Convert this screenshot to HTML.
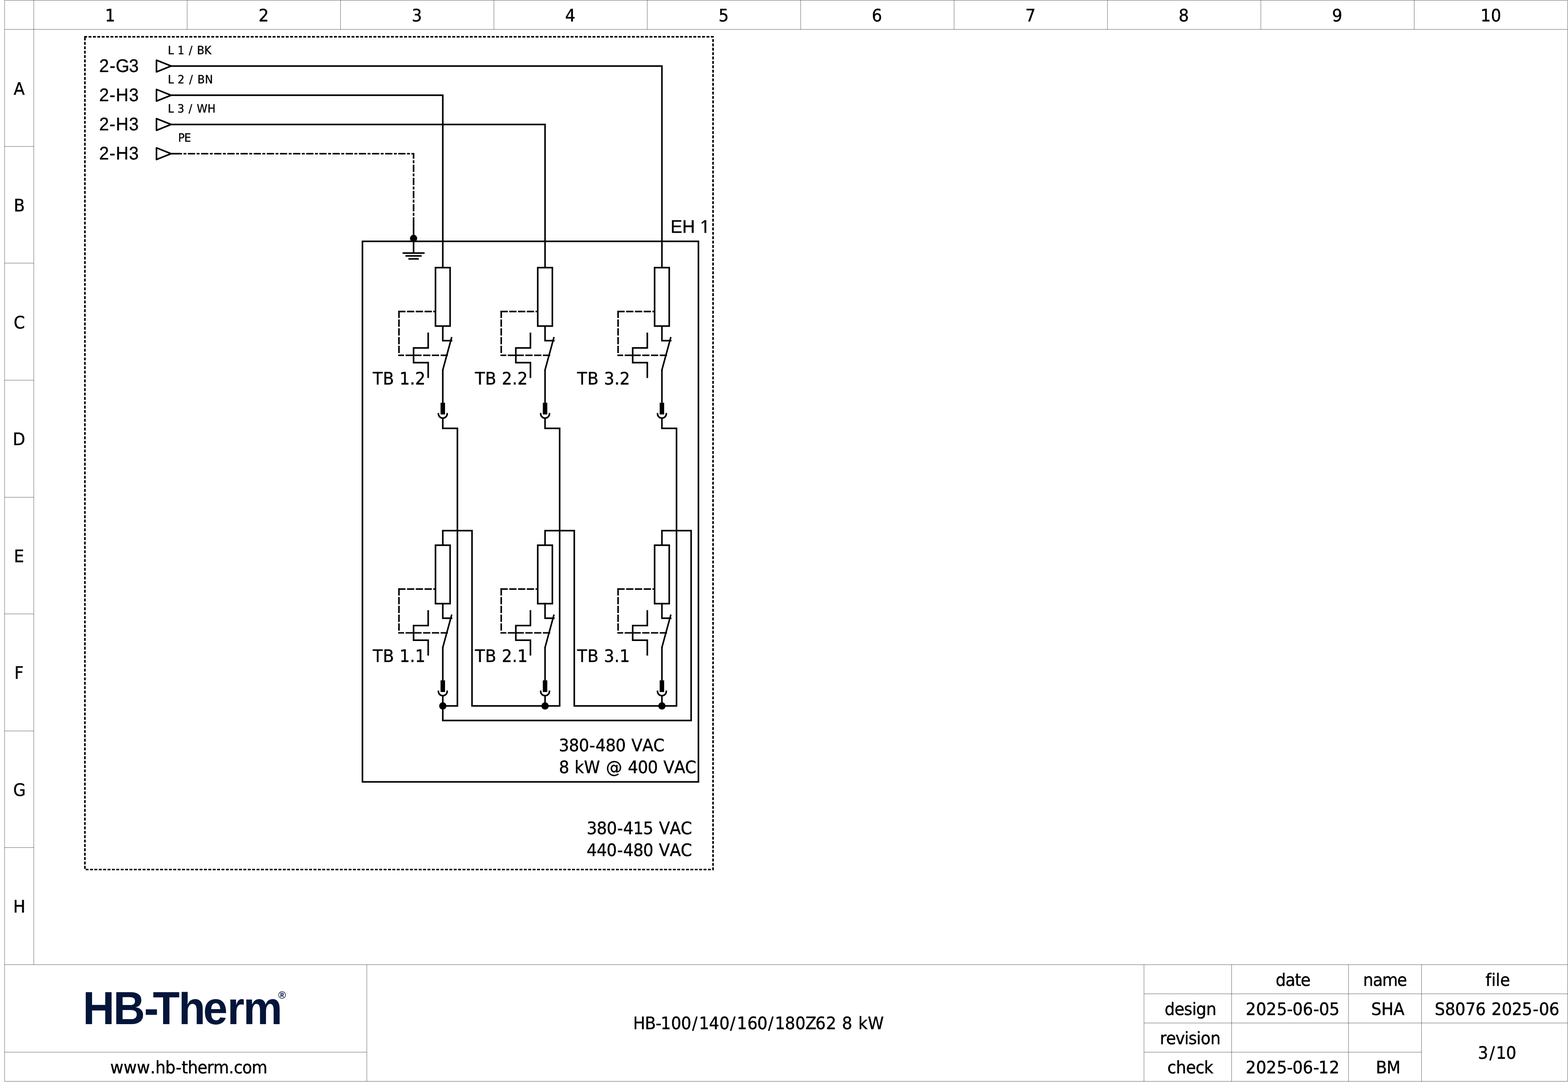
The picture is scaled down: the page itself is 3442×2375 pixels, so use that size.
<!DOCTYPE html>
<html lang="en">
<head>
<meta charset="utf-8">
<title>HB-100/140/160/180Z62 8 kW</title>
<style>
html,body{margin:0;padding:0;background:#fff;}
body{width:3442px;height:2375px;overflow:hidden;}
svg{display:block;position:absolute;left:0;top:0;will-change:transform;}
.thin{fill:none;stroke:#000;stroke-width:0.55;}
.w{fill:none;stroke:#000;stroke-width:3.45;stroke-linejoin:miter;stroke-linecap:butt;}
.sq{fill:none;stroke:#000;stroke-width:3.45;stroke-linejoin:miter;stroke-linecap:square;}
.tri{fill:none;stroke:#000;stroke-width:3.45;stroke-linejoin:round;}
.pinf{fill:#000;stroke:none;}
.dash{fill:none;stroke:#000;stroke-width:3.45;stroke-linecap:square;stroke-dasharray:12.58 6.66;stroke-dashoffset:-0.12;}
.dot{fill:none;stroke:#000;stroke-width:3.45;stroke-linecap:square;stroke-dasharray:2.96 6.66;stroke-dashoffset:-0.12;}
.pe{fill:none;stroke:#000;stroke-width:3.45;stroke-linecap:square;stroke-dasharray:12.58 6.66 2.96 6.66;stroke-dashoffset:-0.12;}
text{font-family:"DejaVu Sans Condensed","DejaVu Sans","Liberation Sans",sans-serif;font-size:37.75px;fill:#000;stroke:#000;stroke-width:0.5px;stroke-linejoin:round;text-rendering:geometricPrecision;}
.t2{font-size:25.05px;stroke-width:0.4px;}
.a3{font-family:"Liberation Sans",Arial,Helvetica,sans-serif;font-size:38.48px;stroke-width:0.5px;}
.logo{font-family:"Liberation Sans",Arial,Helvetica,sans-serif;font-weight:bold;fill:#03153a;stroke:none;}
</style>
</head>
<body>
<svg width="3442" height="2375" viewBox="0 0 3442 2375">
<path class="thin" d="M10 0.5H3441.13M10 2373.5H3441.13M10 0.5V2373.5M3441.13 0.5V2373.5M10 64.5H3441.13M74.13 0.5V2117.5M410.83 0.5V64.5M747.53 0.5V64.5M1084.23 0.5V64.5M1420.93 0.5V64.5M1757.63 0.5V64.5M2094.33 0.5V64.5M2431.03 0.5V64.5M2767.73 0.5V64.5M3104.43 0.5V64.5M10 321.5H74.13M10 577.5H74.13M10 834.5H74.13M10 1091.5H74.13M10 1347.5H74.13M10 1604.5H74.13M10 1860.5H74.13M10 2117.5H3441.13M805.25 2117.5V2373.5M10 2309.5H805.25M2511.2 2117.5V2373.5M2703.6 2117.5V2373.5M2960.13 2117.5V2373.5M3120.47 2117.5V2373.5M2511.2 2181.5H3441.13M2511.2 2245.5H3441.13M2511.2 2309.5H3120.47"/>
<path class="dot" d="M186.37 80.82H1565.23V1908.62H186.37Z"/>
<path class="w" d="M375.56 144.95H1453V587.47"/>
<path class="w" d="M375.56 209.08H972V587.47"/>
<path class="w" d="M375.56 273.22H1196.47V587.47"/>
<path class="pe" d="M907.87 491.27V337.35H394.8"/>
<path class="w" d="M375.56 337.35H394.8"/>
<path class="tri" d="M343.49 132.12L375.56 144.95L343.49 157.78Z"/>
<path class="tri" d="M343.49 196.26L375.56 209.08L343.49 221.91Z"/>
<path class="tri" d="M343.49 260.39L375.56 273.22L343.49 286.04Z"/>
<path class="tri" d="M343.49 324.52L375.56 337.35L343.49 350.18Z"/>
<rect class="w" x="795.63" y="529.75" width="737.53" height="1186.47"/>
<path class="w" d="M907.87 491.27V555.4"/>
<path class="sq" d="M885.42 555.4H930.31"/>
<path class="sq" d="M891.83 561.82H923.9"/>
<path class="sq" d="M898.25 568.23H917.49"/>
<rect class="w" x="955.97" y="587.47" width="32.07" height="128.27"/>
<path class="sq" d="M972 715.74V747.8H991.24"/>
<path class="sq" d="M991.24 741.39L972 811.94"/>
<path class="w" d="M972 811.94V888.9"/>
<rect class="pinf" x="967.09" y="884.09" width="9.82" height="25.65"/>
<path class="sq" d="M962.38 908.14A9.62 9.62 0 0 0 981.62 908.14"/>
<path class="dash" d="M875.8 683.67H954.24"/>
<path class="dash" d="M875.8 683.67V779.87"/>
<path class="dash" d="M981.62 779.87H875.8"/>
<path class="sq" d="M939.93 731.77V763.84H907.87V795.9H939.93V827.97"/>
<rect class="w" x="955.97" y="1196.74" width="32.07" height="128.27"/>
<path class="sq" d="M972 1325V1357.07H991.24"/>
<path class="sq" d="M991.24 1350.66L972 1421.2"/>
<path class="w" d="M972 1421.2V1498.16"/>
<rect class="pinf" x="967.09" y="1493.35" width="9.82" height="25.65"/>
<path class="sq" d="M962.38 1517.4A9.62 9.62 0 0 0 981.62 1517.4"/>
<path class="dash" d="M875.8 1292.94H954.24"/>
<path class="dash" d="M875.8 1292.94V1389.14"/>
<path class="dash" d="M981.62 1389.14H875.8"/>
<path class="sq" d="M939.93 1341.04V1373.1H907.87V1405.17H939.93V1437.24"/>
<rect class="w" x="1180.43" y="587.47" width="32.07" height="128.27"/>
<path class="sq" d="M1196.47 715.74V747.8H1215.71"/>
<path class="sq" d="M1215.71 741.39L1196.47 811.94"/>
<path class="w" d="M1196.47 811.94V888.9"/>
<rect class="pinf" x="1191.56" y="884.09" width="9.82" height="25.65"/>
<path class="sq" d="M1186.85 908.14A9.62 9.62 0 0 0 1206.09 908.14"/>
<path class="dash" d="M1100.27 683.67H1178.71"/>
<path class="dash" d="M1100.27 683.67V779.87"/>
<path class="dash" d="M1206.09 779.87H1100.27"/>
<path class="sq" d="M1164.4 731.77V763.84H1132.33V795.9H1164.4V827.97"/>
<rect class="w" x="1180.43" y="1196.74" width="32.07" height="128.27"/>
<path class="sq" d="M1196.47 1325V1357.07H1215.71"/>
<path class="sq" d="M1215.71 1350.66L1196.47 1421.2"/>
<path class="w" d="M1196.47 1421.2V1498.16"/>
<rect class="pinf" x="1191.56" y="1493.35" width="9.82" height="25.65"/>
<path class="sq" d="M1186.85 1517.4A9.62 9.62 0 0 0 1206.09 1517.4"/>
<path class="dash" d="M1100.27 1292.94H1178.71"/>
<path class="dash" d="M1100.27 1292.94V1389.14"/>
<path class="dash" d="M1206.09 1389.14H1100.27"/>
<path class="sq" d="M1164.4 1341.04V1373.1H1132.33V1405.17H1164.4V1437.24"/>
<rect class="w" x="1436.97" y="587.47" width="32.07" height="128.27"/>
<path class="sq" d="M1453 715.74V747.8H1472.24"/>
<path class="sq" d="M1472.24 741.39L1453 811.94"/>
<path class="w" d="M1453 811.94V888.9"/>
<rect class="pinf" x="1448.09" y="884.09" width="9.82" height="25.65"/>
<path class="sq" d="M1443.38 908.14A9.62 9.62 0 0 0 1462.62 908.14"/>
<path class="dash" d="M1356.8 683.67H1435.24"/>
<path class="dash" d="M1356.8 683.67V779.87"/>
<path class="dash" d="M1462.62 779.87H1356.8"/>
<path class="sq" d="M1420.93 731.77V763.84H1388.87V795.9H1420.93V827.97"/>
<rect class="w" x="1436.97" y="1196.74" width="32.07" height="128.27"/>
<path class="sq" d="M1453 1325V1357.07H1472.24"/>
<path class="sq" d="M1472.24 1350.66L1453 1421.2"/>
<path class="w" d="M1453 1421.2V1498.16"/>
<rect class="pinf" x="1448.09" y="1493.35" width="9.82" height="25.65"/>
<path class="sq" d="M1443.38 1517.4A9.62 9.62 0 0 0 1462.62 1517.4"/>
<path class="dash" d="M1356.8 1292.94H1435.24"/>
<path class="dash" d="M1356.8 1292.94V1389.14"/>
<path class="dash" d="M1462.62 1389.14H1356.8"/>
<path class="sq" d="M1420.93 1341.04V1373.1H1388.87V1405.17H1420.93V1437.24"/>
<path class="w" d="M972 917.76V940.2H1004.07V1549.47H972"/>
<path class="w" d="M972 1527.02V1549.47"/>
<path class="w" d="M972 1196.74V1164.67H1036.13V1549.47H1196.47"/>
<path class="w" d="M1196.47 917.76V940.2H1228.53V1549.47H1196.47"/>
<path class="w" d="M1196.47 1527.02V1549.47"/>
<path class="w" d="M1196.47 1196.74V1164.67H1260.6V1549.47H1453"/>
<path class="w" d="M1453 917.76V940.2H1485.07V1549.47H1453"/>
<path class="w" d="M1453 1527.02V1549.47"/>
<path class="w" d="M1453 1196.74V1164.67H1517.13V1581.54H972V1549.47"/>
<circle cx="907.87" cy="523.34" r="8"/>
<circle cx="972" cy="1549.47" r="8"/>
<circle cx="1196.47" cy="1549.47" r="8"/>
<circle cx="1453" cy="1549.47" r="8"/>
<defs><clipPath id="lc"><rect x="150" y="2177.3" width="520" height="90"/></clipPath></defs>
<text class="t3" x="220.47" y="0" transform="matrix(1.045 0 0 1 0 47.05)">1</text>
<text class="t3" x="543.09" y="0" transform="matrix(1.045 0 0 1 0 47.05)">2</text>
<text class="t3" x="864.93" y="0" transform="matrix(1.045 0 0 1 0 47.05)">3</text>
<text class="t3" x="1187.19" y="0" transform="matrix(1.045 0 0 1 0 47.05)">4</text>
<text class="t3" x="1509.44" y="0" transform="matrix(1.045 0 0 1 0 47.05)">5</text>
<text class="t3" x="1831.36" y="0" transform="matrix(1.045 0 0 1 0 47.05)">6</text>
<text class="t3" x="2153.73" y="0" transform="matrix(1.045 0 0 1 0 47.05)">7</text>
<text class="t3" x="2475.88" y="0" transform="matrix(1.045 0 0 1 0 47.05)">8</text>
<text class="t3" x="2798.19" y="0" transform="matrix(1.045 0 0 1 0 47.05)">9</text>
<text class="t3" x="3110.12 3131.76" y="0" transform="matrix(1.045 0 0 1 0 47.05)">10</text>
<text class="t3" x="28.63" y="0" transform="matrix(1.045 0 0 1 0 207.65)">A</text>
<text class="t3" x="28.89" y="0" transform="matrix(1.045 0 0 1 0 464.18)">B</text>
<text class="t3" x="28.68" y="0" transform="matrix(1.045 0 0 1 0 720.72)">C</text>
<text class="t3" x="26.83" y="0" transform="matrix(1.045 0 0 1 0 977.25)">D</text>
<text class="t3" x="29.27" y="0" transform="matrix(1.045 0 0 1 0 1233.78)">E</text>
<text class="t3" x="30.12" y="0" transform="matrix(1.045 0 0 1 0 1490.32)">F</text>
<text class="t3" x="27.85" y="0" transform="matrix(1.045 0 0 1 0 1746.85)">G</text>
<text class="t3" x="27.80" y="0" transform="matrix(1.045 0 0 1 0 2003.38)">H</text>
<text class="t2" x="352.64 365.65 372.99 387.51 396.78 406.49 413.81 429.13" y="0" transform="matrix(1.045 0 0 1 0 118.90)">L 1 / BK</text>
<text class="t2" x="352.64 365.81 373.32 388.01 397.43 407.28 414.78 430.31" y="0" transform="matrix(1.045 0 0 1 0 183.03)">L 2 / BN</text>
<text class="t2" x="352.54 365.42 372.61 386.99 396.13 405.71 413.40 435.86" y="0" transform="matrix(1.045 0 0 1 0 247.16)">L 3 / WH</text>
<text class="t2" x="374.07 387.19" y="0" transform="matrix(1.045 0 0 1 0 311.30)">PE</text>
<text class="t3" x="782.94 804.34 828.03 839.22 861.05 872.05" y="0" transform="matrix(1.045 0 0 1 0 843.60)">TB 1.2</text>
<text class="t3" x="997.74 1019.14 1042.83 1054.03 1075.85 1086.85" y="0" transform="matrix(1.045 0 0 1 0 843.60)">TB 2.2</text>
<text class="t3" x="1212.55 1233.94 1257.63 1268.83 1290.65 1301.65" y="0" transform="matrix(1.045 0 0 1 0 843.60)">TB 3.2</text>
<text class="t3" x="782.94 804.31 827.98 839.16 860.96 871.94" y="0" transform="matrix(1.045 0 0 1 0 1452.87)">TB 1.1</text>
<text class="t3" x="997.74 1019.11 1042.78 1053.96 1075.76 1086.74" y="0" transform="matrix(1.045 0 0 1 0 1452.87)">TB 2.1</text>
<text class="t3" x="1212.55 1233.91 1257.58 1268.76 1290.56 1301.54" y="0" transform="matrix(1.045 0 0 1 0 1452.87)">TB 3.1</text>
<text class="t3" x="1173.94 1194.96 1215.99 1238.16 1250.99 1272.01 1293.04 1314.99 1326.29 1349.33 1372.21" y="0" transform="matrix(1.045 0 0 1 0 1648.75)">380-480 VAC</text>
<text class="t3" x="1174.21 1196.01 1207.03 1226.77 1261.35 1273.06 1307.96 1318.93 1339.76 1360.59 1382.38 1393.51 1416.34 1439.00" y="0" transform="matrix(1.045 0 0 1 0 1696.85)">8 kW @ 400 VAC</text>
<text class="t3" x="1232.50 1253.43 1274.35 1296.44 1309.18 1330.11 1351.03 1372.90 1384.12 1407.05 1429.81" y="0" transform="matrix(1.045 0 0 1 0 1831.45)">380-415 VAC</text>
<text class="t3" x="1232.37 1253.31 1274.25 1296.35 1309.10 1330.04 1350.98 1372.86 1384.08 1407.04 1429.81" y="0" transform="matrix(1.045 0 0 1 0 1879.45)">440-480 VAC</text>
<text class="t3" x="231.65 259.53 287.40 315.53 326.33 347.18 369.04 381.61 394.25 414.93 435.05 448.02 480.64 491.05 508.86 528.68" y="0" transform="matrix(1.045 0 0 1 0 2355.55)">www.hb-therm.com</text>
<text class="t3" x="1329.85 1354.44 1377.35 1387.91 1409.50 1430.56 1453.89 1468.11 1489.31 1510.94 1533.46 1547.91 1569.80 1590.75 1613.36 1627.72 1648.86 1670.56 1691.99 1713.01 1735.08 1754.22 1768.57 1787.71 1802.82 1823.05" y="0" transform="matrix(1.045 0 0 1 0 2259.35)">HB-100/140/160/180Z62 8 kW</text>
<text class="t3" x="2616.80 2638.50 2659.87 2682.18 2703.28 2715.10 2736.65 2758.97 2770.75 2792.27" y="0" transform="matrix(1.045 0 0 1 0 2227.75)">2025-06-05</text>
<text class="t3" x="2616.80 2638.50 2659.87 2682.18 2703.28 2715.10 2736.65 2758.97 2769.54 2792.21" y="0" transform="matrix(1.045 0 0 1 0 2356.05)">2025-06-12</text>
<text class="t3" x="2679.73 2700.25 2720.05 2732.33" y="0" transform="matrix(1.045 0 0 1 0 2163.75)">date</text>
<text class="t3" x="2863.49 2884.04 2903.35 2934.91" y="0" transform="matrix(1.045 0 0 1 0 2163.75)">name</text>
<text class="t3" x="3120.62 3132.80 3141.94 3151.28" y="0" transform="matrix(1.045 0 0 1 0 2163.75)">file</text>
<text class="t3" x="2446.52 2467.20 2487.13 2503.99 2512.67 2533.63" y="0" transform="matrix(1.045 0 0 1 0 2227.75)">design</text>
<text class="t3" x="2880.41 2901.69 2926.93" y="0" transform="matrix(1.045 0 0 1 0 2227.75)">SHA</text>
<text class="t3" x="3013.90 3035.46 3056.82 3078.18 3099.54 3121.75 3133.14 3154.50 3175.86 3197.22 3219.68 3232.78 3254.14" y="0" transform="matrix(1.045 0 0 1 0 2227.75)">S8076 2025-06</text>
<text class="t3" x="2436.31 2449.48 2469.13 2488.12 2496.67 2513.48 2522.32 2542.63" y="0" transform="matrix(1.045 0 0 1 0 2291.75)">revision</text>
<text class="t3" x="2452.26 2470.34 2491.40 2511.41 2529.27" y="0" transform="matrix(1.045 0 0 1 0 2356.05)">check</text>
<text class="t3" x="2890.14 2912.69" y="0" transform="matrix(1.045 0 0 1 0 2356.05)">BM</text>
<text class="t3" x="3104.56 3128.60 3142.48 3163.63" y="0" transform="matrix(1.045 0 0 1 0 2324.05)">3/10</text>
<text class="a3" x="217.81 240.44 254.01 283.08" y="0" transform="matrix(1 0 0 1.04 0 157.83)">2-G3</text>
<text class="a3" x="217.71 240.24 254.19 283.08" y="0" transform="matrix(1 0 0 1.04 0 221.96)">2-H3</text>
<text class="a3" x="217.71 240.24 254.19 283.08" y="0" transform="matrix(1 0 0 1.04 0 286.09)">2-H3</text>
<text class="a3" x="217.71 240.24 254.19 283.08" y="0" transform="matrix(1 0 0 1.04 0 350.23)">2-H3</text>
<text class="a3" x="1472.04 1497.71 1525.49 1537.09" y="0" transform="matrix(1 0 0 1.04 0 510.55)">EH 1</text>
<g clip-path="url(#lc)"><text class="logo" x="192.22 263.22 334.74 355.15 414.88 471.88 528.08 565.17" y="0" style="font-size:102.1px" transform="matrix(0.945 0 0 1 0 2247.6)">HB-Therm</text></g>
<text class="logo" x="610.64" y="2192.02" style="font-size:22.94px;font-weight:bold">®</text>
<path fill="#fff" d="M1538.29 506.15h8.1v6h-8.1z M1550.54 506.15h8v6h-8z"/>
</svg>
</body>
</html>
